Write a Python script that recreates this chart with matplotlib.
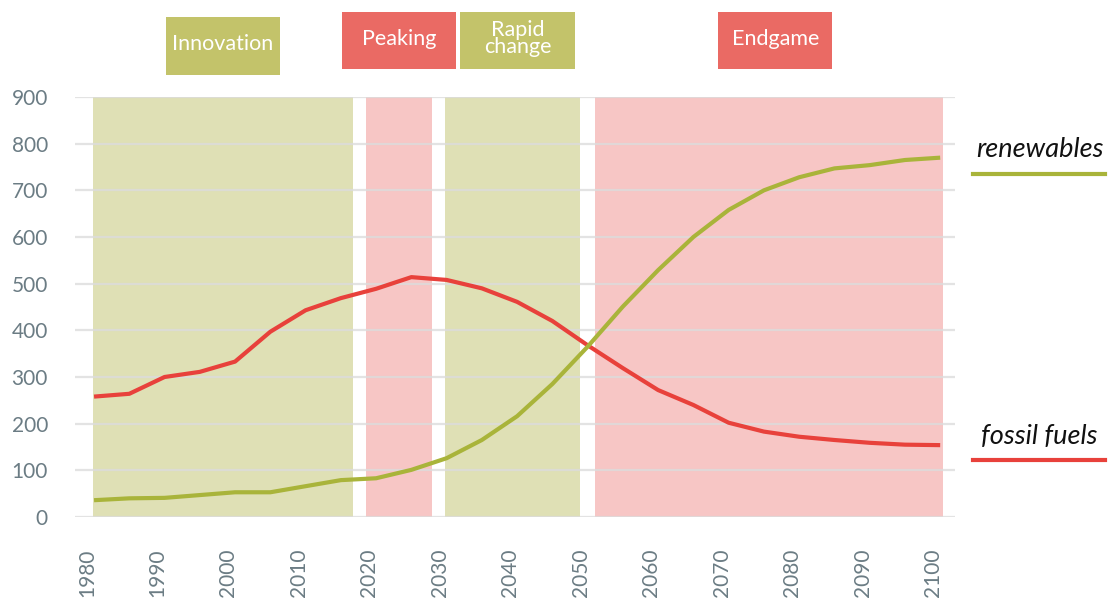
import matplotlib
matplotlib.use("Agg")
import matplotlib.pyplot as plt
import matplotlib.transforms as mtransforms
from matplotlib.patches import Rectangle
from matplotlib.lines import Line2D

# ---- data ----
years = [1981, 1986, 1991, 1996, 2001, 2006, 2011, 2016, 2021, 2026, 2031, 2036, 2041,
         2046, 2051, 2056, 2061, 2066, 2071, 2076, 2081, 2086, 2091, 2096, 2101]
fossil_fuels = [258, 264, 300, 311, 333, 397, 443, 469, 489, 514, 508, 490, 461,
                420, 368, 319, 272, 240, 202, 183, 172, 165, 159, 155, 154]
renewables = [36, 40, 41, 47, 53, 53, 66, 79, 83, 101, 126, 165, 216,
              285, 365, 451, 529, 600, 658, 700, 728, 747, 754, 765, 770]

phase_names = ["Innovation", "Peaking", "Rapid\nchange", "Endgame"]
phase_start = [1980.9, 2019.6, 2030.8, 2052.1]
phase_end = [2017.7, 2028.9, 2049.9, 2101.4]
phase_kind = ["green", "red", "green", "red"]

xticks = list(range(1980, 2101, 10))
yticks = list(range(0, 901, 100))

# ---- style ----
FONT = "Lato"
band_col = {"green": "#dfe0b5", "red": "#f7c6c5"}
box_col = {"green": "#c3c36a", "red": "#ea6a64"}
green_line = "#a9b43a"
red_line = "#e8413b"
tick_col = "#6b7c84"

fig = plt.figure(figsize=(11.08, 6.01), dpi=100)
ax = fig.add_axes([75/1108, 1-517/601, 880/1108, 420/601])
ax.set_xlim(1978.3, 2103.1)
ax.set_ylim(0, 900)

for s in ax.spines.values():
    s.set_visible(False)

# bands
for s, e, k in zip(phase_start, phase_end, phase_kind):
    ax.axvspan(s, e, ymin=0, ymax=1, color=band_col[k], lw=0, zorder=1)

# grid
for y in yticks:
    ax.axhline(y, color="#dcdcdc", lw=1.6, alpha=0.8, zorder=2)

ax.plot(years, fossil_fuels, color=red_line, lw=3.0, zorder=4, solid_capstyle="butt")
ax.plot(years, renewables, color=green_line, lw=3.0, zorder=4, solid_capstyle="butt")

ax.set_yticks(yticks)
ax.set_yticklabels([str(v) for v in yticks], fontsize=15, color=tick_col, family=FONT)
ax.set_xticks(xticks)
ax.set_xticklabels([str(v) for v in xticks], fontsize=15, color=tick_col, family=FONT,
                   rotation=90, va="top")
ax.tick_params(axis="both", length=0)
ax.tick_params(axis="y", pad=19.5)
ax.tick_params(axis="x", pad=23)

# phase boxes
trans = mtransforms.blended_transform_factory(ax.transData, ax.transAxes)
box_w = 16.2
box_shift = [0.0, 0.0, 0.7, 0.85]
box_y = [(1.052, 1.190), (1.0667, 1.202), (1.0667, 1.202), (1.0667, 1.202)]
for name, s, e, k, dx, (y0, y1) in zip(phase_names, phase_start, phase_end, phase_kind,
                                       box_shift, box_y):
    c = (s + e) / 2 + dx
    ax.add_patch(Rectangle((c - box_w/2, y0), box_w, y1 - y0, transform=trans,
                           facecolor=box_col[k], edgecolor="none", clip_on=False, zorder=5))
    ax.text(c, (y0 + y1) / 2 + 0.004, name, transform=trans, ha="center", va="center",
            color="white", fontsize=15.5, family=FONT, linespacing=0.8, zorder=6)

# legend-like labels
ax.text(1.0966, 0.874, "renewables", transform=ax.transAxes, ha="center", va="center",
        fontsize=19.5, style="italic", family=FONT, color="#111111")
ax.add_line(Line2D([1.0205, 1.170], [0.8167, 0.8167], transform=ax.transAxes,
                   color=green_line, lw=3.0, clip_on=False))
ax.text(1.0955, 0.1905, "fossil fuels", transform=ax.transAxes, ha="center", va="center",
        fontsize=19.5, style="italic", family=FONT, color="#111111")
ax.add_line(Line2D([1.0205, 1.170], [0.1357, 0.1357], transform=ax.transAxes,
                   color=red_line, lw=3.0, clip_on=False))

fig.savefig("out.png", dpi=100)
